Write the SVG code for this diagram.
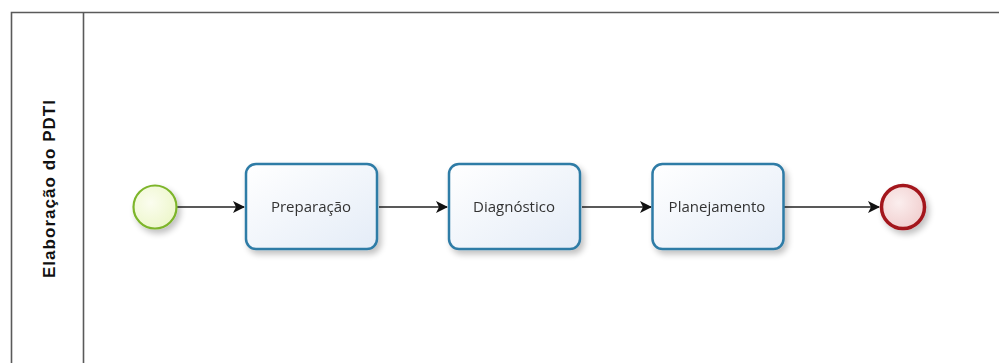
<svg xmlns="http://www.w3.org/2000/svg" width="999" height="363" viewBox="0 0 999 363">
<defs>
<style>
.lane{fill:none;stroke:#5a5a5a;stroke-width:1.6}
.task rect.b{fill:url(#gTask);stroke:#2f7ba6;stroke-width:2.5}
.lbl{font-family:"Open Sans","Noto Sans",sans-serif;font-size:15px;fill:#333;text-anchor:middle}
.conn{fill:none;stroke:#222;stroke-width:1.3}
.title{font-family:"Liberation Sans",Arial,sans-serif;font-size:17px;font-weight:bold;fill:#111;text-anchor:middle}
</style>
<linearGradient id="gTask" x1="0" y1="0" x2="1" y2="1">
<stop offset="0" stop-color="#ffffff"/>
<stop offset="1" stop-color="#e4ecf7"/>
</linearGradient>
<radialGradient id="gStart" cx="0.4" cy="0.4" r="0.7">
<stop offset="0" stop-color="#fbfdef"/>
<stop offset="1" stop-color="#ecf6c8"/>
</radialGradient>
<radialGradient id="gEnd" cx="0.4" cy="0.4" r="0.7">
<stop offset="0" stop-color="#fbeeee"/>
<stop offset="1" stop-color="#f0cccc"/>
</radialGradient>
<filter id="sh" x="-30%" y="-30%" width="170%" height="170%">
<feGaussianBlur in="SourceAlpha" stdDeviation="3"/>
<feOffset dx="3" dy="4" result="o"/>
<feComponentTransfer><feFuncA type="linear" slope="0.25"/></feComponentTransfer>
<feMerge><feMergeNode/><feMergeNode in="SourceGraphic"/></feMerge>
</filter>
<marker id="arr" viewBox="0 0 12 12" refX="11" refY="6" markerWidth="12" markerHeight="12" markerUnits="userSpaceOnUse" orient="auto">
<path d="M0,0 L12,6 L0,12 L3,6 Z" fill="#111"/>
</marker>
</defs>
<rect width="999" height="363" fill="#ffffff"/>
<g id="pool">
<path class="lane" d="M999,12.5 H11.5 V363"/>
<line class="lane" x1="83.5" y1="12.5" x2="83.5" y2="363"/>
<text class="title" transform="translate(55,189) rotate(-90)" textLength="178" lengthAdjust="spacing">Elaboração do PDTI</text>
</g>
<g id="connectors">
<line class="conn" x1="177" y1="207" x2="244" y2="207" marker-end="url(#arr)"/>
<line class="conn" x1="379" y1="207" x2="447" y2="207" marker-end="url(#arr)"/>
<line class="conn" x1="582" y1="207" x2="651" y2="207" marker-end="url(#arr)"/>
<line class="conn" x1="784" y1="207" x2="879" y2="207" marker-end="url(#arr)"/>
</g>
<g id="start" filter="url(#sh)">
<circle cx="155" cy="207" r="21.5" fill="url(#gStart)" stroke="#7db52c" stroke-width="2.2"/>
</g>
<g id="preparacao" class="task" filter="url(#sh)">
<rect class="b" x="246" y="164" width="131" height="85" rx="10"/>
<text class="lbl" x="311" y="211.5">Preparação</text>
</g>
<g id="diagnostico" class="task" filter="url(#sh)">
<rect class="b" x="449" y="164" width="131" height="85" rx="10"/>
<text class="lbl" x="514" y="211.5">Diagnóstico</text>
</g>
<g id="planejamento" class="task" filter="url(#sh)">
<rect class="b" x="652.5" y="164" width="131" height="85" rx="10"/>
<text class="lbl" x="717" y="211.5">Planejamento</text>
</g>
<g id="end" filter="url(#sh)">
<circle cx="903" cy="207" r="21.5" fill="url(#gEnd)" stroke="#a3161c" stroke-width="3.5"/>
</g>
</svg>
